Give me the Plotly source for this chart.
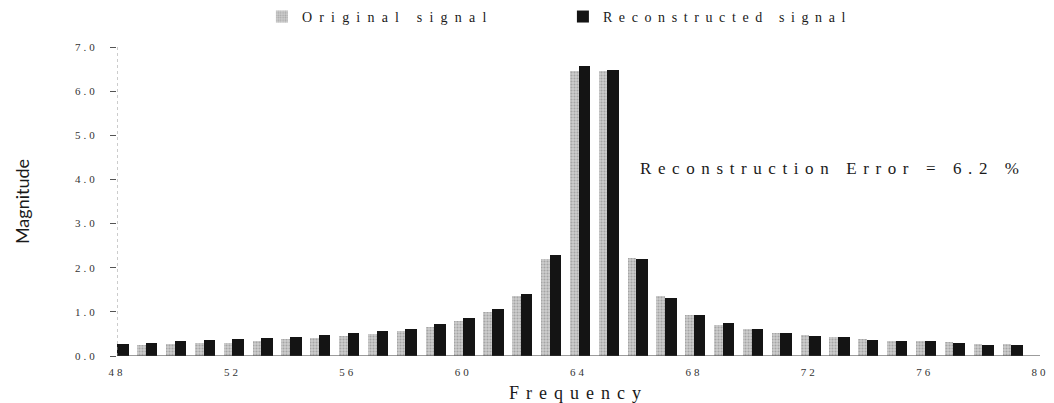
import plotly.graph_objects as go

# Spectrum magnitudes around the carrier (bins 48..79)
freqs = list(range(48, 80))
original = [0.22, 0.24, 0.27, 0.29, 0.30, 0.35, 0.38, 0.41, 0.45, 0.50,
            0.56, 0.66, 0.79, 0.99, 1.36, 2.20, 6.45, 6.46, 2.22, 1.37,
            0.92, 0.70, 0.62, 0.53, 0.48, 0.42, 0.39, 0.35, 0.35, 0.32,
            0.28, 0.27]
reconstructed = [0.28, 0.29, 0.33, 0.36, 0.38, 0.40, 0.44, 0.48, 0.51, 0.56,
                 0.62, 0.72, 0.87, 1.06, 1.41, 2.29, 6.56, 6.48, 2.20, 1.32,
                 0.93, 0.74, 0.62, 0.52, 0.45, 0.42, 0.37, 0.34, 0.33, 0.29,
                 0.26, 0.26]
x_ticks = [48, 52, 56, 60, 64, 68, 72, 76, 80]
y_ticks = [0, 1, 2, 3, 4, 5, 6, 7]
error_pct = 6.2

SERIF = "Liberation Serif, Times New Roman, serif"


def spaced(text, px):
    return f'<span style="letter-spacing:{px}px">{text}</span>'


fig = go.Figure()
fig.add_trace(go.Bar(
    x=freqs, y=original, name=spaced("Original signal", 7.2),
    width=0.3, offset=-0.3,
    marker=dict(color="#c8c8c8", line=dict(width=0),
                pattern=dict(shape=".", fgcolor="#7e7e7e", bgcolor="#cdcdcd",
                             size=3, solidity=0.4)),
))
fig.add_trace(go.Bar(
    x=freqs, y=reconstructed, name=spaced("Reconstructed signal", 6.6),
    width=0.4, offset=0.0,
    marker=dict(color="#141414", line=dict(width=0)),
))

# dotted value axis
fig.add_shape(type="line", xref="x", yref="y", x0=48, x1=48, y0=0, y1=7,
              line=dict(color="#9a9a9a", width=1, dash="dot"))
# baseline
fig.add_shape(type="line", xref="x", yref="y", x0=48, x1=80, y0=0, y1=0,
              line=dict(color="#3a3a3a", width=1.2))

fig.add_annotation(
    x=66.06, y=4.25, xref="x", yref="y", xanchor="left", yanchor="middle",
    text=spaced(f"Reconstruction Error = {error_pct} %", 6.6),
    showarrow=False, font=dict(family=SERIF, size=17, color="#1a1a1a"),
)

fig.update_layout(
    width=1054, height=403,
    margin=dict(l=117, r=14, t=47, b=47, autoexpand=False),
    paper_bgcolor="white", plot_bgcolor="white",
    barmode="overlay", bargap=0,
    showlegend=True,
    legend=dict(orientation="h", x=0.157, xanchor="left", y=0.958, yanchor="middle",
                yref="container", font=dict(family=SERIF, size=14, color="#1a1a1a"),
                entrywidth=256, entrywidthmode="pixels",
                itemclick=False, bgcolor="rgba(0,0,0,0)"),
    xaxis=dict(
        range=[48, 80], tickmode="array", tickvals=x_ticks,
        ticktext=[spaced(str(v), 3) for v in x_ticks],
        showgrid=False, zeroline=False, showline=False, ticks="",
        tickfont=dict(family=SERIF, size=11, color="#333"),
        ticklabelstandoff=8, automargin=False,
        title=dict(text=spaced("Frequency", 7), standoff=18,
                   font=dict(family=SERIF, size=18, color="#1a1a1a")),
    ),
    yaxis=dict(
        range=[0, 7], tickmode="array", tickvals=y_ticks,
        ticktext=[spaced(f"{v:.1f}", 3) for v in y_ticks],
        showgrid=False, zeroline=False, showline=False,
        ticks="outside", ticklen=6, tickcolor="#555", tickwidth=1,
        tickfont=dict(family=SERIF, size=11, color="#333"),
        ticklabelstandoff=10, automargin=False,
        title=dict(text="Magnitude", standoff=40,
                   font=dict(family="Lato, Open Sans, sans-serif", size=18, color="#1a1a1a")),
    ),
)

fig.write_html("out.html")
